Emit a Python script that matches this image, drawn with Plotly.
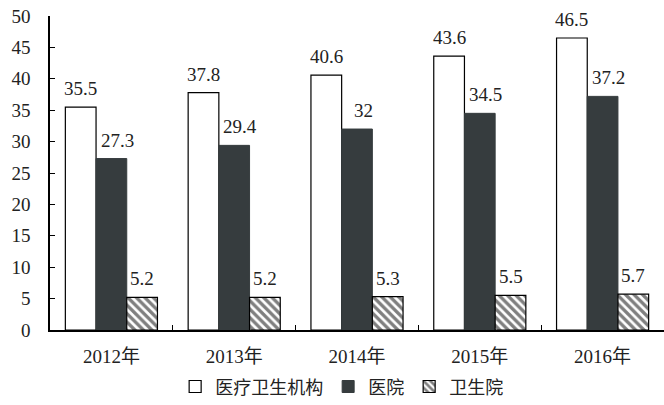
import plotly.graph_objects as go

years = ["2012年", "2013年", "2014年", "2015年", "2016年"]
series_names = ["医疗卫生机构", "医院", "卫生院"]
inst = [35.5, 37.8, 40.6, 43.6, 46.5]
hosp = [27.3, 29.4, 32, 34.5, 37.2]
town = [5.2, 5.2, 5.3, 5.5, 5.7]

FONT = "'Liberation Serif', 'Noto Sans CJK SC', serif"
TXT = dict(size=19, color="#222", family=FONT)

fig = go.Figure()
fig.add_trace(go.Bar(
    x=years, y=inst, name=series_names[0],
    marker=dict(color="white", line=dict(color="black", width=1.2)),
))
fig.add_trace(go.Bar(
    x=years, y=hosp, name=series_names[1],
    marker=dict(color="#363c3e", line=dict(color="#363c3e", width=1)),
))
fig.add_trace(go.Bar(
    x=years, y=town, name=series_names[2],
    marker=dict(color="white", line=dict(color="black", width=1.2),
                pattern=dict(shape="\\", fgcolor="black", bgcolor="white",
                             size=6, solidity=0.55)),
))

# value labels above bars
bar_px = 614 / len(years) * 0.75 / 3
for i, vals in enumerate([inst, hosp, town]):
    extra = 6 if i == 1 else 0
    for yr, v in zip(years, vals):
        fig.add_annotation(
            x=yr, y=v, text=f"{v:g}", showarrow=False,
            xanchor="center", yanchor="bottom",
            xshift=(i - 1) * bar_px + extra, yshift=6, font=TXT,
        )

fig.update_layout(
    width=664, height=405,
    margin=dict(l=50, r=0, t=16, b=75, autoexpand=False),
    paper_bgcolor="white", plot_bgcolor="white",
    barmode="group", bargap=0.25, bargroupgap=0,
    font=dict(family=FONT, size=16, color="#222"),
    showlegend=True,
    legend=dict(orientation="h", x=0.475, xanchor="center", y=-0.122, yanchor="top",
                font=dict(size=18, family=FONT), itemwidth=30, traceorder="normal",
                tracegroupgap=0),
)
fig.update_xaxes(
    showline=True, linecolor="black", linewidth=1.5,
    ticks="inside", tickson="boundaries", ticklen=5, tickcolor="black",
    showgrid=False, tickfont=dict(size=19, family=FONT), ticklabelstandoff=8,
    automargin=False,
)
fig.update_yaxes(
    range=[0, 50], dtick=5, showline=True, linecolor="black", linewidth=1.5,
    ticks="inside", ticklen=5, tickcolor="black", showgrid=False,
    zeroline=False, tickfont=dict(size=19, family=FONT), ticklabelstandoff=14,
    ticklabeloverflow="allow", automargin=False,
)

fig.write_html(
    "out.html",
    config={"displayModeBar": False},
    post_script="document.body.style.margin='0';document.body.style.overflow='hidden';",
)
